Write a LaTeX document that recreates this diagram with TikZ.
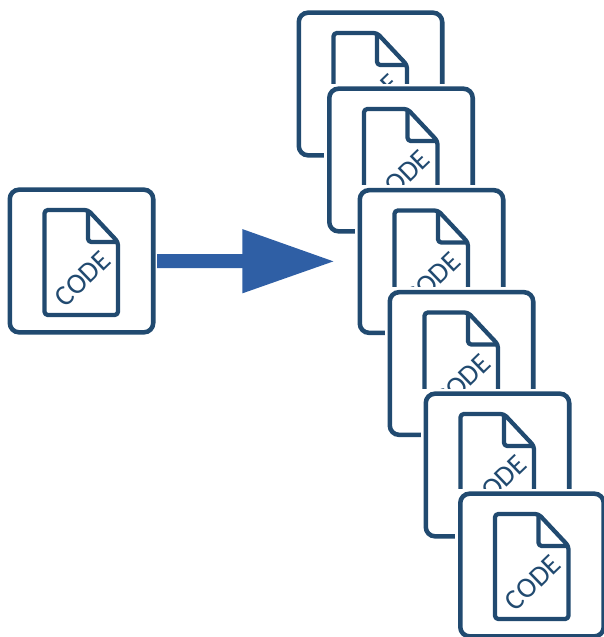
\documentclass[tikz,border=0pt]{standalone}
\usepackage{fontspec}
\setmainfont{Carlito}
\usetikzlibrary{arrows.meta}

\definecolor{cardblue}{HTML}{214A70}
\definecolor{arrowblue}{HTML}{2F5FA5}

\tikzset{
	card/.style={draw=cardblue, fill=white, line width=3.4pt, rounded corners=7pt, minimum width=107.6pt, minimum height=107pt, inner sep=0pt, outer sep=0pt},
	doc/.style={draw=cardblue, line width=3.2pt, rounded corners=2.5pt, line join=round},
	codelabel/.style={text=cardblue, rotate=44, font=\fontsize{21.5}{21.5}\selectfont, inner sep=0pt}
}

% #1 name, #2 x, #3 y of the card centre
\newcommand{\codecard}[3]{
	\fill[white] (#2-77,#3-76.5) rectangle (#2+77,#3+76);
	\node[card] (#1) at (#2,#3) {};
	\draw[doc] (#2-37,#3-51) -- (#2+6.5,#3-51) -- (#2+36.5,#3-19) -- (#2+36.5,#3+54) -- (#2-37,#3+54) -- cycle;
	\draw[doc] (#2+6.5,#3-51) -- (#2+6.5,#3-19) -- (#2+36.5,#3-19);
	\node[codelabel] (#1code) at (#2+1,#3+18) {CODE};
}

\begin{document}
\begin{tikzpicture}[x=0.75pt, y=-0.75pt]
	\useasboundingbox (0,0) rectangle (604,637);

	% Single file on the left
	\codecard{source}{81.5}{261}

	% Pile of copies, back to front
	\codecard{copyA}{370.5}{84}
	\codecard{copyB}{401}{160}
	\codecard{copyC}{431.5}{261.5}
	\codecard{copyD}{461.5}{363.5}
	\codecard{copyE}{497.5}{465}
	\codecard{copyF}{532}{565}

	% Arrow
	\draw[arrowblue, line width=10.5pt, shorten <=3pt, shorten >=18.5pt, -{Triangle[length=69.5pt, width=45pt]}] (source) -- (copyC);
\end{tikzpicture}
\end{document}
